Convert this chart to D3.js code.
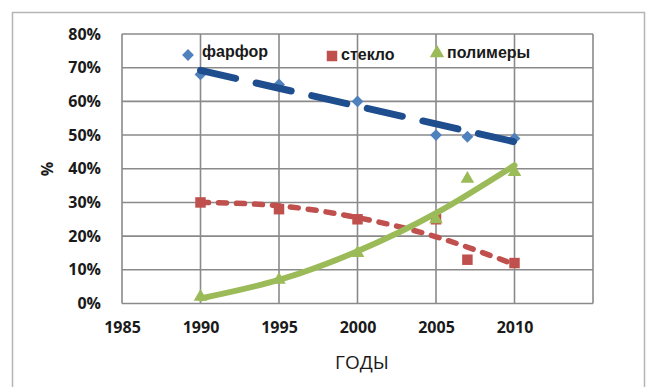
<!DOCTYPE html>
<html><head><meta charset="utf-8">
<script src="https://cdn.jsdelivr.net/npm/d3@7"></script>
<style>body{margin:0;background:#fff}svg{display:block}</style>
</head><body>
<svg id="c" width="648" height="387"></svg>
<script>
// ---- data ----
const xTicks = [1985, 1990, 1995, 2000, 2005, 2010];
const yTicks = [0, 10, 20, 30, 40, 50, 60, 70, 80];
const seriesNames = ["фарфор", "стекло", "полимеры"];
const years = [1990, 1995, 2000, 2005, 2007, 2010];
const porcelain = [68, 65, 60, 50, 49.5, 49];
const glass = [30, 28, 25, 25, 13, 12];
const polymers = [2, 7, 15, 25, 37, 39];
// trend lines
const trendYearsLin = [1990, 2010];
const porcelainTrend = [69.2, 48];
const trendYears = [1990, 1995, 2000, 2005, 2010];
const glassTrend = [30, 29, 25.5, 19.8, 11.6];
const polymersTrend = [1.5, 7, 15.5, 26.8, 41];

// ---- layout ----
const svg = d3.select("#c");
const L = 122, R = 593, T = 34, B = 303.5;
const x = d3.scaleLinear().domain([1985, 2015]).range([L, R]);
const y = d3.scaleLinear().domain([0, 80]).range([B, T]);

// outer frame
svg.append("rect").attr("x", 12.5).attr("y", 12.5).attr("width", 632).attr("height", 400)
  .attr("fill", "none").attr("stroke", "#b5b5b5").attr("stroke-width", 1.5);

const grid = "#8a8a8a";
// gridlines
svg.append("g").selectAll("line").data(yTicks).join("line")
  .attr("x1", L).attr("x2", R).attr("y1", d => y(d)).attr("y2", d => y(d))
  .attr("stroke", grid).attr("stroke-width", 1.6);
svg.append("g").selectAll("line").data(xTicks.concat([2015])).join("line")
  .attr("y1", T).attr("y2", B).attr("x1", d => x(d)).attr("x2", d => x(d))
  .attr("stroke", grid).attr("stroke-width", 1.6);

// axes labels
const yAxis = d3.axisLeft(y).tickValues(yTicks).tickFormat(d => d + "%").tickSize(0).tickPadding(21);
const gy = svg.append("g").attr("transform", `translate(${L},0)`).call(yAxis);
gy.select(".domain").remove();
gy.selectAll("text").attr("font-family", "Open Sans, Arial, sans-serif").attr("font-weight", "bold")
  .attr("font-size", 16).attr("fill", "#1a1a1a");

const xAxis = d3.axisBottom(x).tickValues(xTicks).tickFormat(d3.format("d")).tickSize(0).tickPadding(18);
const gx = svg.append("g").attr("transform", `translate(0,${B})`).call(xAxis);
gx.select(".domain").remove();
gx.selectAll("text").attr("font-family", "Open Sans, Arial, sans-serif").attr("font-weight", "bold")
  .attr("font-size", 16).attr("fill", "#1a1a1a");

svg.append("text").attr("x", 362).attr("y", 369).attr("text-anchor", "middle")
  .attr("font-family", "Open Sans, Arial, sans-serif").attr("font-size", 19).attr("fill", "#1a1a1a").text("ГОДЫ");
svg.append("text").attr("transform", "translate(53,169) rotate(-90)").attr("text-anchor", "middle")
  .attr("font-family", "Open Sans, Arial, sans-serif").attr("font-weight", "bold").attr("font-size", 16)
  .attr("fill", "#1a1a1a").text("%");

const colBlue = "#4f81bd", colBlueTrend = "#1f4e8f", colRed = "#c0504d", colGreen = "#9bbb59";

// trend lines
const line = d3.line().x(d => x(d[0])).y(d => y(d[1]));
const lineC = d3.line().x(d => x(d[0])).y(d => y(d[1])).curve(d3.curveNatural);

// markers
const sym = (type, size) => d3.symbol().type(type).size(size)();

svg.append("g").selectAll("path").data(years.map((yr, i) => [yr, porcelain[i]])).join("path")
  .attr("transform", d => `translate(${x(d[0])},${y(d[1])}) rotate(45)`)
  .attr("d", sym(d3.symbolSquare, 70)).attr("fill", colBlue);
svg.append("g").selectAll("path").data(years.map((yr, i) => [yr, glass[i]])).join("path")
  .attr("transform", d => `translate(${x(d[0])},${y(d[1])})`)
  .attr("d", sym(d3.symbolSquare, 110)).attr("fill", colRed);
svg.append("g").selectAll("path").data(years.map((yr, i) => [yr, polymers[i]])).join("path")
  .attr("transform", d => `translate(${x(d[0])},${y(d[1])})`)
  .attr("d", sym(d3.symbolTriangle, 80)).attr("fill", colGreen);

svg.append("path").datum(trendYearsLin.map((yr, i) => [yr, porcelainTrend[i]]))
  .attr("d", line).attr("fill", "none").attr("stroke", colBlueTrend).attr("stroke-width", 7)
  .attr("stroke-linecap", "round").attr("stroke-dasharray", "36,21");
svg.append("path").datum(trendYears.map((yr, i) => [yr, glassTrend[i]]))
  .attr("d", lineC).attr("fill", "none").attr("stroke", colRed).attr("stroke-width", 5.5)
  .attr("stroke-linecap", "round").attr("stroke-dasharray", "8,10");
svg.append("path").datum(trendYears.map((yr, i) => [yr, polymersTrend[i]]))
  .attr("d", lineC).attr("fill", "none").attr("stroke", colGreen).attr("stroke-width", 6)
  .attr("stroke-linecap", "round");

// legend
const legend = [
  {name: seriesNames[0], mx: 188, my: 55, tx: 202, ty: 57, shape: "diamond", col: colBlue},
  {name: seriesNames[1], mx: 332, my: 56, tx: 341, ty: 60, shape: "square", col: colRed},
  {name: seriesNames[2], mx: 437, my: 53, tx: 447, ty: 58, shape: "triangle", col: colGreen}
];
const lg = svg.append("g").selectAll("g").data(legend).join("g");
lg.append("path")
  .attr("transform", d => `translate(${d.mx},${d.my})` + (d.shape === "diamond" ? " rotate(45)" : ""))
  .attr("d", d => d.shape === "diamond" ? sym(d3.symbolSquare, 70) : d.shape === "square" ? sym(d3.symbolSquare, 110) : sym(d3.symbolTriangle, 90))
  .attr("fill", d => d.col);
lg.append("text").attr("x", d => d.tx).attr("y", d => d.ty)
  .attr("font-family", "Liberation Sans, Arial, sans-serif").attr("font-weight", "bold").attr("font-size", 16)
  .attr("fill", "#1a1a1a").text(d => d.name);
</script>
</body></html>
